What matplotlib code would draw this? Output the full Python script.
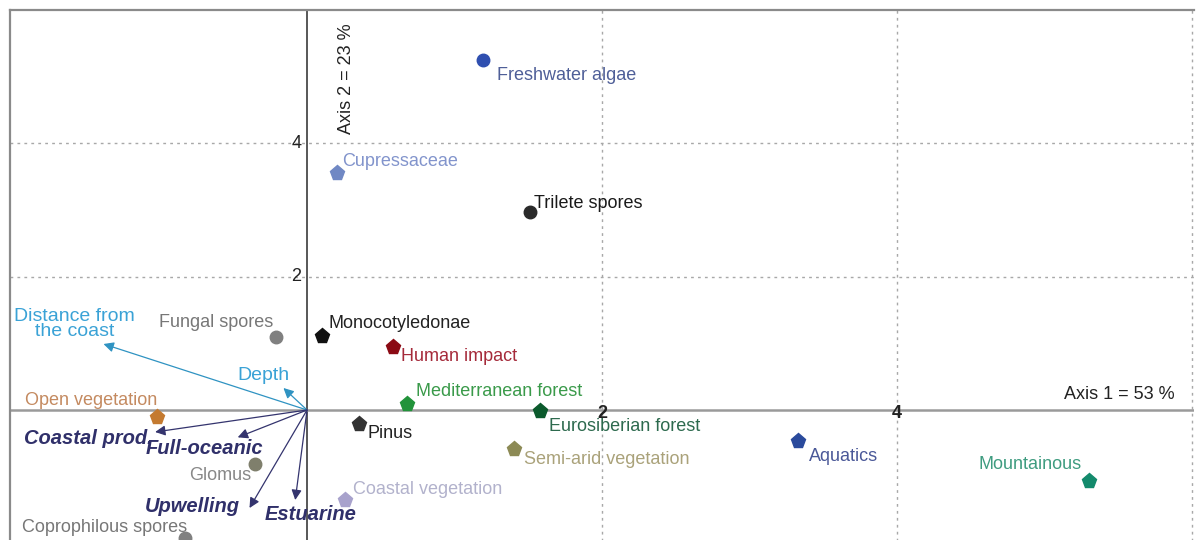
import matplotlib
matplotlib.use('Agg')
import matplotlib.pyplot as plt

# species / indicator scores on the two ordination axes
taxa = ['Freshwater algae', 'Cupressaceae', 'Trilete spores', 'Fungal spores',
        'Monocotyledonae', 'Human impact', 'Mediterranean forest',
        'Eurosiberian forest', 'Semi-arid vegetation', 'Aquatics', 'Mountainous',
        'Pinus', 'Coastal vegetation', 'Open vegetation', 'Glomus',
        'Coprophilous spores']
axis1 = [1.19, 0.20, 1.51, -0.21, 0.10, 0.58, 0.68, 1.58, 1.40, 3.33, 5.30,
         0.35, 0.26, -1.02, -0.35, -0.83]
axis2 = [5.25, 3.55, 2.97, 1.09, 1.11, 0.95, 0.09, -0.02, -0.59, -0.47, -1.07,
         -0.21, -1.35, -0.11, -0.81, -1.92]

# environmental vectors
env = ['Distance from\nthe coast', 'Depth', 'Coastal prod.', 'Full-oceanic',
       'Upwelling', 'Estuarine']
env_x = [-1.38, -0.16, -1.03, -0.47, -0.39, -0.08]
env_y = [0.99, 0.33, -0.33, -0.41, -1.47, -1.35]

ticks = [2, 4]

# styles
markers = ['o', 'p', 'o', 'o', 'p', 'p', 'p', 'p', 'p', 'p', 'p', 'p', 'p',
           'p', 'o', 'o']
colors = ['#2f4fb0', '#7088c4', '#2a2a2a', '#808080', '#111111', '#8b0a14',
          '#22933a', '#0b5a2c', '#8c8a55', '#2a4a9c', '#138a6c', '#333333',
          '#a8a2cc', '#c47a30', '#7f7f6c', '#808080']
txt_colors = ['#4f5f98', '#8294cc', '#1a1a1a', '#777777', '#222222', '#a52a3a',
              '#3a9a4a', '#2d6a4e', '#aaa27a', '#4a5898', '#3f9c80', '#222222',
              '#b2b2cc', '#c48a60', '#888888', '#777777']
# label offsets in pixels (dx, dy) and alignment
offs = [(14, -15, 'left'), (6, 12, 'left'), (4, 8, 'left'), (-3, 15, 'right'),
        (7, 12, 'left'), (8, -10, 'left'), (9, 12, 'left'), (9, -15, 'left'),
        (10, -10, 'left'), (11, -15, 'left'), (-7, 17, 'right'),
        (9, -10, 'left'), (8, 10, 'left'), (1, 17, 'right'),
        (-4, -11, 'right'), (3, 10, 'right')]
env_colors = ['#2f93c2', '#2f93c2', '#34346e', '#34346e', '#34346e', '#34346e']
env_txt = ['#3aa2d6', '#3aa2d6', '#30306a', '#30306a', '#30306a', '#30306a']
env_offs = [(-29, 20, 'center'), (-20, 12, 'center'), (-2, -6, 'right'),
            (-33, -11, 'center'), (-10, 2, 'right'), (15, -14, 'center')]
env_bold = [False, False, True, True, True, True]

plt.rcParams['font.family'] = ['Liberation Sans', 'DejaVu Sans']
FS = 13

fig = plt.figure(figsize=(11.96, 5.40), dpi=100)
# axes frame runs past the bottom of the picture (cropped figure)
ax = fig.add_axes([10 / 1196, -70 / 540, 1184 / 1196, 600 / 540])
ax.set_xlim(-2.014, 6.014)
ax.set_ylim(-3.0, 6.0)
ax.set_xticks([])
ax.set_yticks([])
for s in ['left', 'top']:
    ax.spines[s].set_color('#8a8a8a')
    ax.spines[s].set_linewidth(1.6)
ax.spines['right'].set_visible(False)
ax.spines['bottom'].set_visible(False)

for t in ticks + [6]:
    ax.axvline(t, color='#a8a8a8', lw=1, ls=(0, (2, 3)), zorder=0)
for t in ticks:
    ax.axhline(t, color='#a8a8a8', lw=1, ls=(0, (2, 3)), zorder=0)
ax.axvline(0, color='#4a4a4a', lw=1.3, zorder=1)
ax.axhline(0, color='#9a9a9a', lw=1.8, zorder=1)

for t in ticks:
    ax.text(0, t, str(t) + ' ', ha='right', va='center', fontsize=FS,
            color='#222222')
    ax.text(t, -0.05, str(t), ha='center', va='center', fontsize=FS,
            color='#222222', fontweight='bold')

ax.text(0.27, 5.8, 'Axis 2 = 23 %', rotation=90, ha='center', va='top',
        fontsize=FS, color='#222222')
ax.text(5.88, 0.1, 'Axis 1 = 53 %', ha='right', va='bottom', fontsize=FS,
        color='#222222')

for i, name in enumerate(taxa):
    ax.plot(axis1[i], axis2[i], marker=markers[i], color=colors[i],
            markersize=11 if markers[i] == 'p' else 9, ls='none', zorder=3)
    dx, dy, ha = offs[i]
    ax.annotate(name, (axis1[i], axis2[i]), xytext=(dx, dy),
                textcoords='offset pixels', ha=ha, va='center', fontsize=FS,
                color=txt_colors[i], zorder=4)

for i, name in enumerate(env):
    ax.annotate('', xy=(env_x[i], env_y[i]), xytext=(0, 0),
                arrowprops=dict(arrowstyle='-|>', color=env_colors[i], lw=0.9,
                                mutation_scale=15, shrinkA=0, shrinkB=0),
                zorder=2)
    dx, dy, ha = env_offs[i]
    ax.annotate(name, (env_x[i], env_y[i]), xytext=(dx, dy),
                textcoords='offset pixels', ha=ha, va='center',
                multialignment='center', linespacing=0.8,
                fontsize=14.5 if env_bold[i] else 14,
                fontweight='bold' if env_bold[i] else 'normal',
                fontstyle='italic' if env_bold[i] else 'normal',
                color=env_txt[i], zorder=4)

fig.savefig('out.png', dpi=100)
